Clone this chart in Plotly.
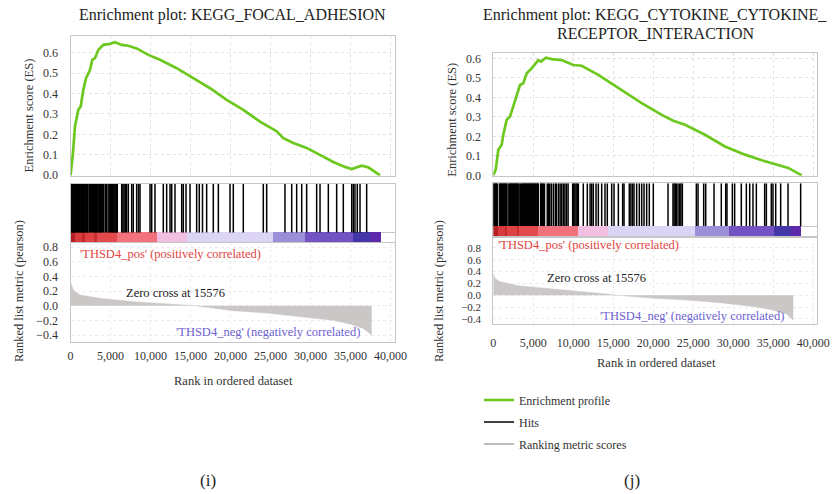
import plotly.graph_objects as go

W, H = 833, 494

# ---------------- data: panel (i) KEGG_FOCAL_ADHESION ----------------
es_rank_i = [0, 275, 560, 975, 1275, 1600, 1940, 2440, 2725, 3060, 3475, 4100, 4940, 5560,
             6400, 7225, 8275, 9725, 11190, 13275, 15350, 17440, 19525, 21600, 23690, 25775,
             26600, 27850, 29525, 31190, 32850, 34310, 35150, 36400, 37225, 38690]
es_i = [0.0, 0.093, 0.239, 0.320, 0.337, 0.418, 0.475, 0.516, 0.565, 0.573, 0.613, 0.638,
        0.643, 0.651, 0.638, 0.634, 0.621, 0.589, 0.565, 0.524, 0.475, 0.426, 0.369, 0.320,
        0.263, 0.215, 0.182, 0.158, 0.134, 0.101, 0.065, 0.041, 0.031, 0.047, 0.039, 0.0]
hits_i = [20, 110, 200, 300, 390, 480, 580, 680, 770, 850, 980, 1100, 1200, 1300, 1400, 1500,
          1600, 1700, 1800, 1900, 2000, 2100, 2180, 2350, 2500, 2600, 2750, 2900, 3020, 3120,
          3220, 3330, 3440, 3550, 3650, 3750, 3850, 4000, 4150, 4350, 4500, 4700, 4850, 5020,
          5120, 5230, 5340, 5450, 5560, 5670, 5780, 5850,
          6400, 6550, 6690, 6850, 7020, 7230, 7650, 7850, 8270, 8500, 8690, 9940, 10150, 10560,
          11600, 12020, 12440, 12650, 13060, 13900, 14100, 14440, 14940, 15770, 16100, 16500,
          17020, 17850, 18480, 19940, 20350, 21600, 24100, 24520, 26810, 27650, 28270, 28900,
          29520, 30770, 31190, 32230, 33270, 34100, 35150, 35350, 35560, 35850, 36190, 37020]
metric_rank_i = [60, 350, 1190, 3690, 7850, 12025, 15576, 20350, 24525, 28690, 32850, 34940,
                 36600, 37440, 37650]
metric_i = [0.305, 0.214, 0.146, 0.100, 0.055, 0.023, 0.0, -0.068, -0.100, -0.150, -0.200,
            -0.250, -0.310, -0.380, -0.410]
band_edges_i = [0, 500, 1400, 1700, 2900, 3200, 5800, 10800, 14500, 25300, 29300, 35300,
                37400, 38700]

# ---------------- data: panel (j) KEGG_CYTOKINE_CYTOKINE_RECEPTOR_INTERACTION ----------------
es_rank_j = [0, 300, 625, 1050, 1250, 1675, 2090, 2710, 3340, 3750, 4175, 4800, 5625, 5960,
             6590, 7300, 8550, 10000, 11050, 13125, 15625, 18550, 21050, 22500, 23960, 26460,
             28960, 31460, 33550, 35625, 36875, 38550]
es_j = [0.0, 0.029, 0.131, 0.157, 0.208, 0.285, 0.301, 0.387, 0.463, 0.472, 0.523, 0.549,
        0.591, 0.583, 0.603, 0.596, 0.591, 0.566, 0.562, 0.515, 0.447, 0.370, 0.310, 0.280,
        0.259, 0.208, 0.148, 0.106, 0.077, 0.051, 0.038, 0.0]
hits_j = [20, 110, 200, 300, 400, 490, 760, 860, 960, 1060, 1160, 1260, 1360, 1460, 1560,
          1660, 1850, 2000, 2100, 2200, 2300, 2400, 2500, 2600, 2700, 2800, 2900, 3000, 3100,
          3220, 3380, 3540, 3640, 3740, 3840, 3940, 4040, 4140, 4240, 4340, 4440, 4540, 4640,
          4740, 4840, 4940, 5040, 5140, 5240, 5340, 5440, 5540, 5630, 5920, 6020, 6120, 6250,
          6400, 6750, 6900, 7050, 7250, 7500, 7750, 7900, 8150, 8350, 8540, 8750, 8950, 9150,
          9350, 9920, 10050, 10200, 10350, 10500, 10630, 11250, 11750, 12100, 12300, 12500,
          12840, 13130, 13550, 13960, 14250, 14800, 15090, 15630, 16170, 16340, 17000, 17200,
          17400, 17590, 17920, 18250, 18550, 18840, 19170, 19500, 20000, 21840, 22460, 22600,
          22750, 22880, 23090, 23300, 23450, 23630, 25380, 25590, 26300, 26550, 27590, 28500,
          29050, 29210, 29880, 30170, 31000, 31630, 32050, 32460, 32880, 33920, 34130, 34750,
          34960, 35300, 35920, 36840, 38420]
metric_rank_j = [0, 210, 840, 3340, 7500, 11675, 14175, 15576, 20000, 24175, 28340, 32500,
                 35000, 36675, 37300, 37500]
metric_j = [0.372, 0.287, 0.230, 0.157, 0.106, 0.061, 0.022, 0.0, -0.050, -0.080, -0.125,
            -0.190, -0.250, -0.316, -0.390, -0.420]
band_edges_j = [0, 625, 1500, 1800, 3000, 3300, 5630, 10630, 14380, 25300, 29460, 35170,
                37250, 38500]

# ---------------- tick labels ----------------
rank_ticks = [0, 5000, 10000, 15000, 20000, 25000, 30000, 35000, 40000]
es_ticks = [0.0, 0.1, 0.2, 0.3, 0.4, 0.5, 0.6]
metric_ticks = [-0.4, -0.2, 0.0, 0.2, 0.4, 0.6, 0.8]

# ---------------- styles ----------------
band_colors = ["#b31f22", "#d93a3b", "#c52b2e", "#de4243", "#c93234", "#e34a4c", "#f2727c",
               "#f2bfe2", "#dbd4f5", "#9b8fd9", "#7353c3", "#4337a8", "#5b29a9"]
FONT = "Liberation Serif"
GREEN = "#6cc81e"
FRAME = "#c6c6c6"
GRID = "#e2e2e2"


def fx(p):
    return p / W


def fy(p):
    return 1 - p / H


fig = go.Figure()

panels = [
    dict(k=1, es_rank=es_rank_i, es=es_i, hits=hits_i, m_rank=metric_rank_i, m=metric_i,
         edges=band_edges_i, x0=70.5, x1=394.5, es_top=36, es_bot=175.7, es_range=[-0.002, 0.6815],
         h_top=184, h_bot=243.5, frac=0.186, m_top=243, m_bot=342, m_range=[-0.495, 0.855],
         xstand=3, mfont=12, legend=False),
    dict(k=4, es_rank=es_rank_j, es=es_j, hits=hits_j, m_rank=metric_rank_j, m=metric_j,
         edges=band_edges_j, x0=493.3, x1=817.3, es_top=52.5, es_bot=175.7, es_range=[-0.002, 0.63],
         h_top=183.3, h_bot=236.7, frac=0.2, m_top=236.7, m_bot=324.3, m_range=[-0.49, 0.99],
         xstand=7, mfont=11, legend=True),
]


def ax(n):
    return "" if n == 1 else str(n)


layout_axes = {}
for p in panels:
    k = p["k"]
    a_es, a_h, a_m = ax(k), ax(k + 1), ax(k + 2)
    xdom = [fx(p["x0"]), fx(p["x1"])]
    tf = dict(family=FONT, size=12, color="#333")
    common = dict(showline=True, mirror=True, linecolor=FRAME, linewidth=1, zeroline=False,
                  tickfont=tf, automargin=False)
    # ES panel
    layout_axes["xaxis" + a_es] = dict(common, domain=xdom, range=[0, 40500], anchor="y" + a_es,
                                       tickvals=rank_ticks, showticklabels=False, ticks="",
                                       showgrid=True, gridcolor=GRID, griddash="dot")
    layout_axes["yaxis" + a_es] = dict(common, domain=[fy(p["es_bot"]), fy(p["es_top"])],
                                       range=p["es_range"], anchor="x" + a_es, tickvals=es_ticks,
                                       tickformat=".1f", ticks="", ticklabelstandoff=9,
                                       showgrid=True, gridcolor=GRID, griddash="dot",
                                       zeroline=True, zerolinecolor="#b4b4b4", zerolinewidth=1)
    # hits panel
    layout_axes["xaxis" + a_h] = dict(common, domain=xdom, range=[0, 40500], anchor="y" + a_h,
                                      showticklabels=False, ticks="", showgrid=False)
    layout_axes["yaxis" + a_h] = dict(common, domain=[fy(p["h_bot"]), fy(p["h_top"])],
                                      range=[0, 1], anchor="x" + a_h, tickvals=[p["frac"]],
                                      showticklabels=False, ticks="", showgrid=True,
                                      gridcolor=FRAME)
    # metric panel
    layout_axes["xaxis" + a_m] = dict(common, domain=xdom, range=[0, 40500], anchor="y" + a_m,
                                      tickvals=rank_ticks, tickformat=",", ticks="",
                                      ticklabelstandoff=p["xstand"], showgrid=True,
                                      gridcolor="#ececec", griddash="dot")
    layout_axes["yaxis" + a_m] = dict(common, domain=[fy(p["m_bot"]), fy(p["m_top"])],
                                      range=p["m_range"], anchor="x" + a_m, tickvals=metric_ticks,
                                      tickformat=".1f", ticks="", ticklabelstandoff=9,
                                      tickfont=dict(family=FONT, size=p["mfont"], color="#333"),
                                      showgrid=True, gridcolor="#ececec", griddash="dot")

    # traces
    fig.add_trace(go.Scatter(x=p["es_rank"], y=p["es"], mode="lines",
                             line=dict(color=GREEN, width=2.7), name="Enrichment profile",
                             legendgroup="a", showlegend=p["legend"],
                             xaxis="x" + a_es, yaxis="y" + a_es))
    hx, hy = [], []
    for h in p["hits"]:
        hx += [h, h, None]
        hy += [p["frac"], 1, None]
    fig.add_trace(go.Scatter(x=hx, y=hy, mode="lines", line=dict(color="black", width=1.5),
                             name="Hits", legendgroup="b", showlegend=p["legend"],
                             xaxis="x" + a_h, yaxis="y" + a_h))
    e = p["edges"]
    fig.add_trace(go.Bar(x=[(e[i] + e[i + 1]) / 2 for i in range(len(e) - 1)],
                         width=[e[i + 1] - e[i] for i in range(len(e) - 1)],
                         y=[p["frac"]] * (len(e) - 1), base=0,
                         marker=dict(color=band_colors, line=dict(width=0)),
                         showlegend=False, xaxis="x" + a_h, yaxis="y" + a_h))
    fig.add_trace(go.Scatter(x=p["m_rank"], y=p["m"], mode="lines", fill="tozeroy",
                             fillcolor="#cbc7c7", line=dict(color="#cbc7c7", width=0.5),
                             showlegend=False, xaxis="x" + a_m, yaxis="y" + a_m))

fig.add_trace(go.Scatter(x=[None], y=[None], mode="lines", line=dict(color="#bdbdbd", width=2),
                         name="Ranking metric scores", legendgroup="c", showlegend=True,
                         xaxis="x6", yaxis="y6"))


def txt(s, x, y, size=12, color="#333", angle=0, xanchor="center"):
    return dict(text=s, x=fx(x), y=fy(y), xref="paper", yref="paper", showarrow=False,
                xanchor=xanchor, yanchor="middle", textangle=angle,
                font=dict(family=FONT, size=size, color=color))


RED_T = "#e2453f"
BLUE_T = "#6e62cf"
annotations = [
    txt("Enrichment plot: KEGG_FOCAL_ADHESION", 232, 15, 16, "#222"),
    txt("Enrichment plot: KEGG_CYTOKINE_CYTOKINE_", 655, 15, 16, "#222"),
    txt("RECEPTOR_INTERACTION", 655, 33.3, 16, "#222"),
    txt("Enrichment score (ES)", 28.5, 116, 12.5, angle=-90),
    txt("Enrichment score (ES)", 451.7, 120, 12.5, angle=-90),
    txt("Ranked list metric (pearson)", 18.5, 291.5, 12.5, angle=-90),
    txt("Ranked list metric (pearson)", 439, 291, 12.5, angle=-90),
    txt("Rank in ordered dataset", 233, 381, 12.5),
    txt("Rank in ordered dataset", 656.7, 363.3, 12.5),
    txt("'THSD4_pos' (positively correlated)", 78, 254, 12.5, RED_T, xanchor="left"),
    txt("'THSD4_pos' (positively correlated)", 496, 245, 12.5, RED_T, xanchor="left"),
    txt("'THSD4_neg' (negatively correlated)", 268, 331.7, 12.5, BLUE_T),
    txt("'THSD4_neg' (negatively correlated)", 692, 315.7, 12.5, BLUE_T),
    txt("Zero cross at 15576", 175.5, 293.3, 12.5, "#222"),
    txt("Zero cross at 15576", 596, 278.3, 12.5, "#222"),
    txt("(i)", 208.3, 480, 17, "#222"),
    txt("(j)", 631.7, 480, 17, "#222"),
]

fig.update_layout(
    template="none",
    width=W, height=H, margin=dict(l=0, r=0, t=0, b=0, pad=0, autoexpand=False),
    paper_bgcolor="white", plot_bgcolor="white",
    annotations=annotations,
    showlegend=True,
    legend=dict(x=fx(479), y=fy(385.5), xanchor="left", yanchor="top",
                font=dict(family=FONT, size=12, color="#333"),
                traceorder="grouped", tracegroupgap=3, bgcolor="rgba(0,0,0,0)", borderwidth=0),
    bargap=0,
    **layout_axes,
)

fig.write_html("out.html", config={"displayModeBar": False},
               post_script="document.body.style.margin='0px';document.body.style.overflow='hidden';")
